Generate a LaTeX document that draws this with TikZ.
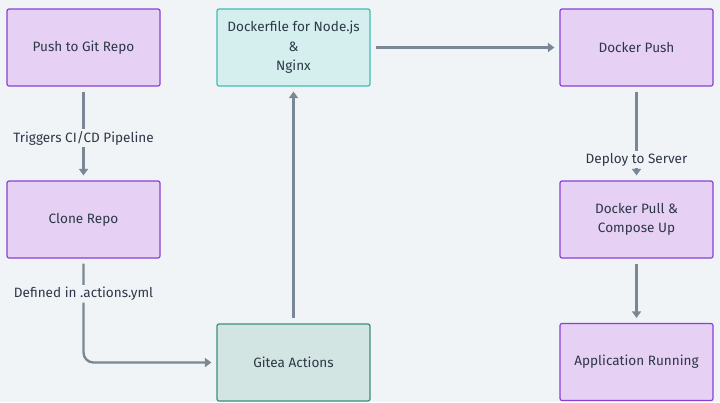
\documentclass[tikz,border=0pt]{standalone}
\usepackage{fontspec}
\setmainfont{Fira Sans}
\usepackage{tikz}
\usetikzlibrary{arrows.meta,backgrounds}
\definecolor{bgcol}{HTML}{F1F4F7}
\definecolor{stepfill}{HTML}{E6D0F3}
\definecolor{stepline}{HTML}{8A3FD6}
\definecolor{dockfill}{HTML}{D4EFEE}
\definecolor{dockline}{HTML}{3DBFAE}
\definecolor{giteafill}{HTML}{D3E5E2}
\definecolor{gitealine}{HTML}{3F8C7C}
\definecolor{flowcol}{HTML}{7A8794}
\definecolor{txtcol}{HTML}{2D3748}
\tikzstyle{stepbox}=[
  draw=stepline, fill=stepfill, line width=1.2bp, rounded corners=2bp,
  minimum width=153bp, minimum height=77bp, align=center,
  text=txtcol, font=\fontsize{13.6}{19.5}\selectfont
]
\tikzstyle{dockbox}=[
  stepbox, draw=dockline, fill=dockfill
]
\tikzstyle{giteabox}=[
  stepbox, draw=gitealine, fill=giteafill
]
\tikzstyle{flow}=[
  draw=flowcol, line width=2.4bp, -{Triangle[width=9bp,length=6.5bp]},
  shorten >=5bp, shorten <=5bp
]
\tikzstyle{flowlabel}=[
  fill=bgcol, inner sep=2bp, text=txtcol, font=\fontsize{13.6}{16}\selectfont
]

\begin{document}
\begin{tikzpicture}[x=1bp,y=-1bp]
        \fill [bgcol] (0,0) rectangle (720,402);
        \useasboundingbox (0,0) rectangle (720,402);
        \node (push) at (83.5, 47.5) [stepbox] {Push to Git Repo};
        \node (clone) at (83.5, 219.5) [stepbox] {Clone Repo};
        \node (dockerfile) at (293.5, 47.5) [dockbox] {Dockerfile for Node.js\\\&\\Nginx};
        \node (gitea) at (293.5, 362.5) [giteabox] {Gitea Actions};
        \node (dpush) at (636.5, 47.5) [stepbox] {Docker Push};
        \node (dpull) at (636.5, 219.5) [stepbox] {Docker Pull \&\\Compose Up};
        \node (running) at (636.5, 362) [stepbox] {Application Running};

        \draw [flow] (push) -- node [flowlabel, pos=0.55] {Triggers CI/CD Pipeline} (clone);
        \draw [flow, rounded corners=10bp] (clone.south) |- node [flowlabel, pos=0.17] {Defined in .actions.yml} (gitea.west);
        \draw [flow] (gitea) -- (dockerfile);
        \draw [flow] (dockerfile) -- (dpush);
        \draw [flow] (dpush) -- node [flowlabel, pos=0.78] {Deploy to Server} (dpull);
        \draw [flow] (dpull) -- (running);
        \end{tikzpicture}
\end{document}
